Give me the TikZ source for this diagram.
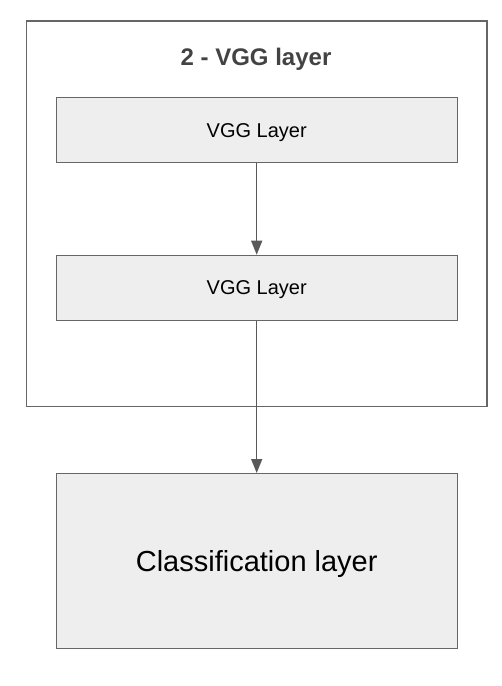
\documentclass[tikz,border=0pt]{standalone}
\usepackage{fontspec}
\setmainfont{Liberation Sans}
\usetikzlibrary{arrows.meta,positioning}
\definecolor{boxfill}{HTML}{EEEEEE}
\definecolor{boxline}{HTML}{666666}
\definecolor{arrowline}{HTML}{595959}
\definecolor{titletext}{HTML}{434343}
\begin{document}
\begin{tikzpicture}[x=1pt,y=-1pt,
  layerbox/.style={draw=boxline, fill=boxfill, line width=1.4pt, inner sep=0pt, text depth=0pt, anchor=north west},
  groupbox/.style={draw=boxline, line width=1.4pt, inner sep=0pt, anchor=north west},
  conn/.style={draw=arrowline, line width=1.4pt, -{Triangle[length=14pt,width=11pt]}}]
\useasboundingbox (0,0) rectangle (502,686);
\node[groupbox, minimum width=460.6pt, minimum height=385.4pt] (outer) at (25.7,20.3) {};
\node[text=titletext, font=\fontsize{24}{28}\selectfont\bfseries] (title) at (256,59.1) {2 - VGG layer};
\node[layerbox, minimum width=401pt, minimum height=65pt, font=\fontsize{20}{24}\selectfont] (v1) at (55.5,97) {VGG Layer};
\node[layerbox, minimum width=401pt, minimum height=65pt, font=\fontsize{20}{24}\selectfont] (v2) at (55.5,254.7) {VGG Layer};
\node[layerbox, minimum width=401pt, minimum height=175pt, font=\fontsize{29}{34}\selectfont] (cls) at (55.5,473) {Classification layer};
\draw[conn] (v1.south) -- (v2.north);
\draw[conn] (v2.south) -- (cls.north);
\end{tikzpicture}
\end{document}
